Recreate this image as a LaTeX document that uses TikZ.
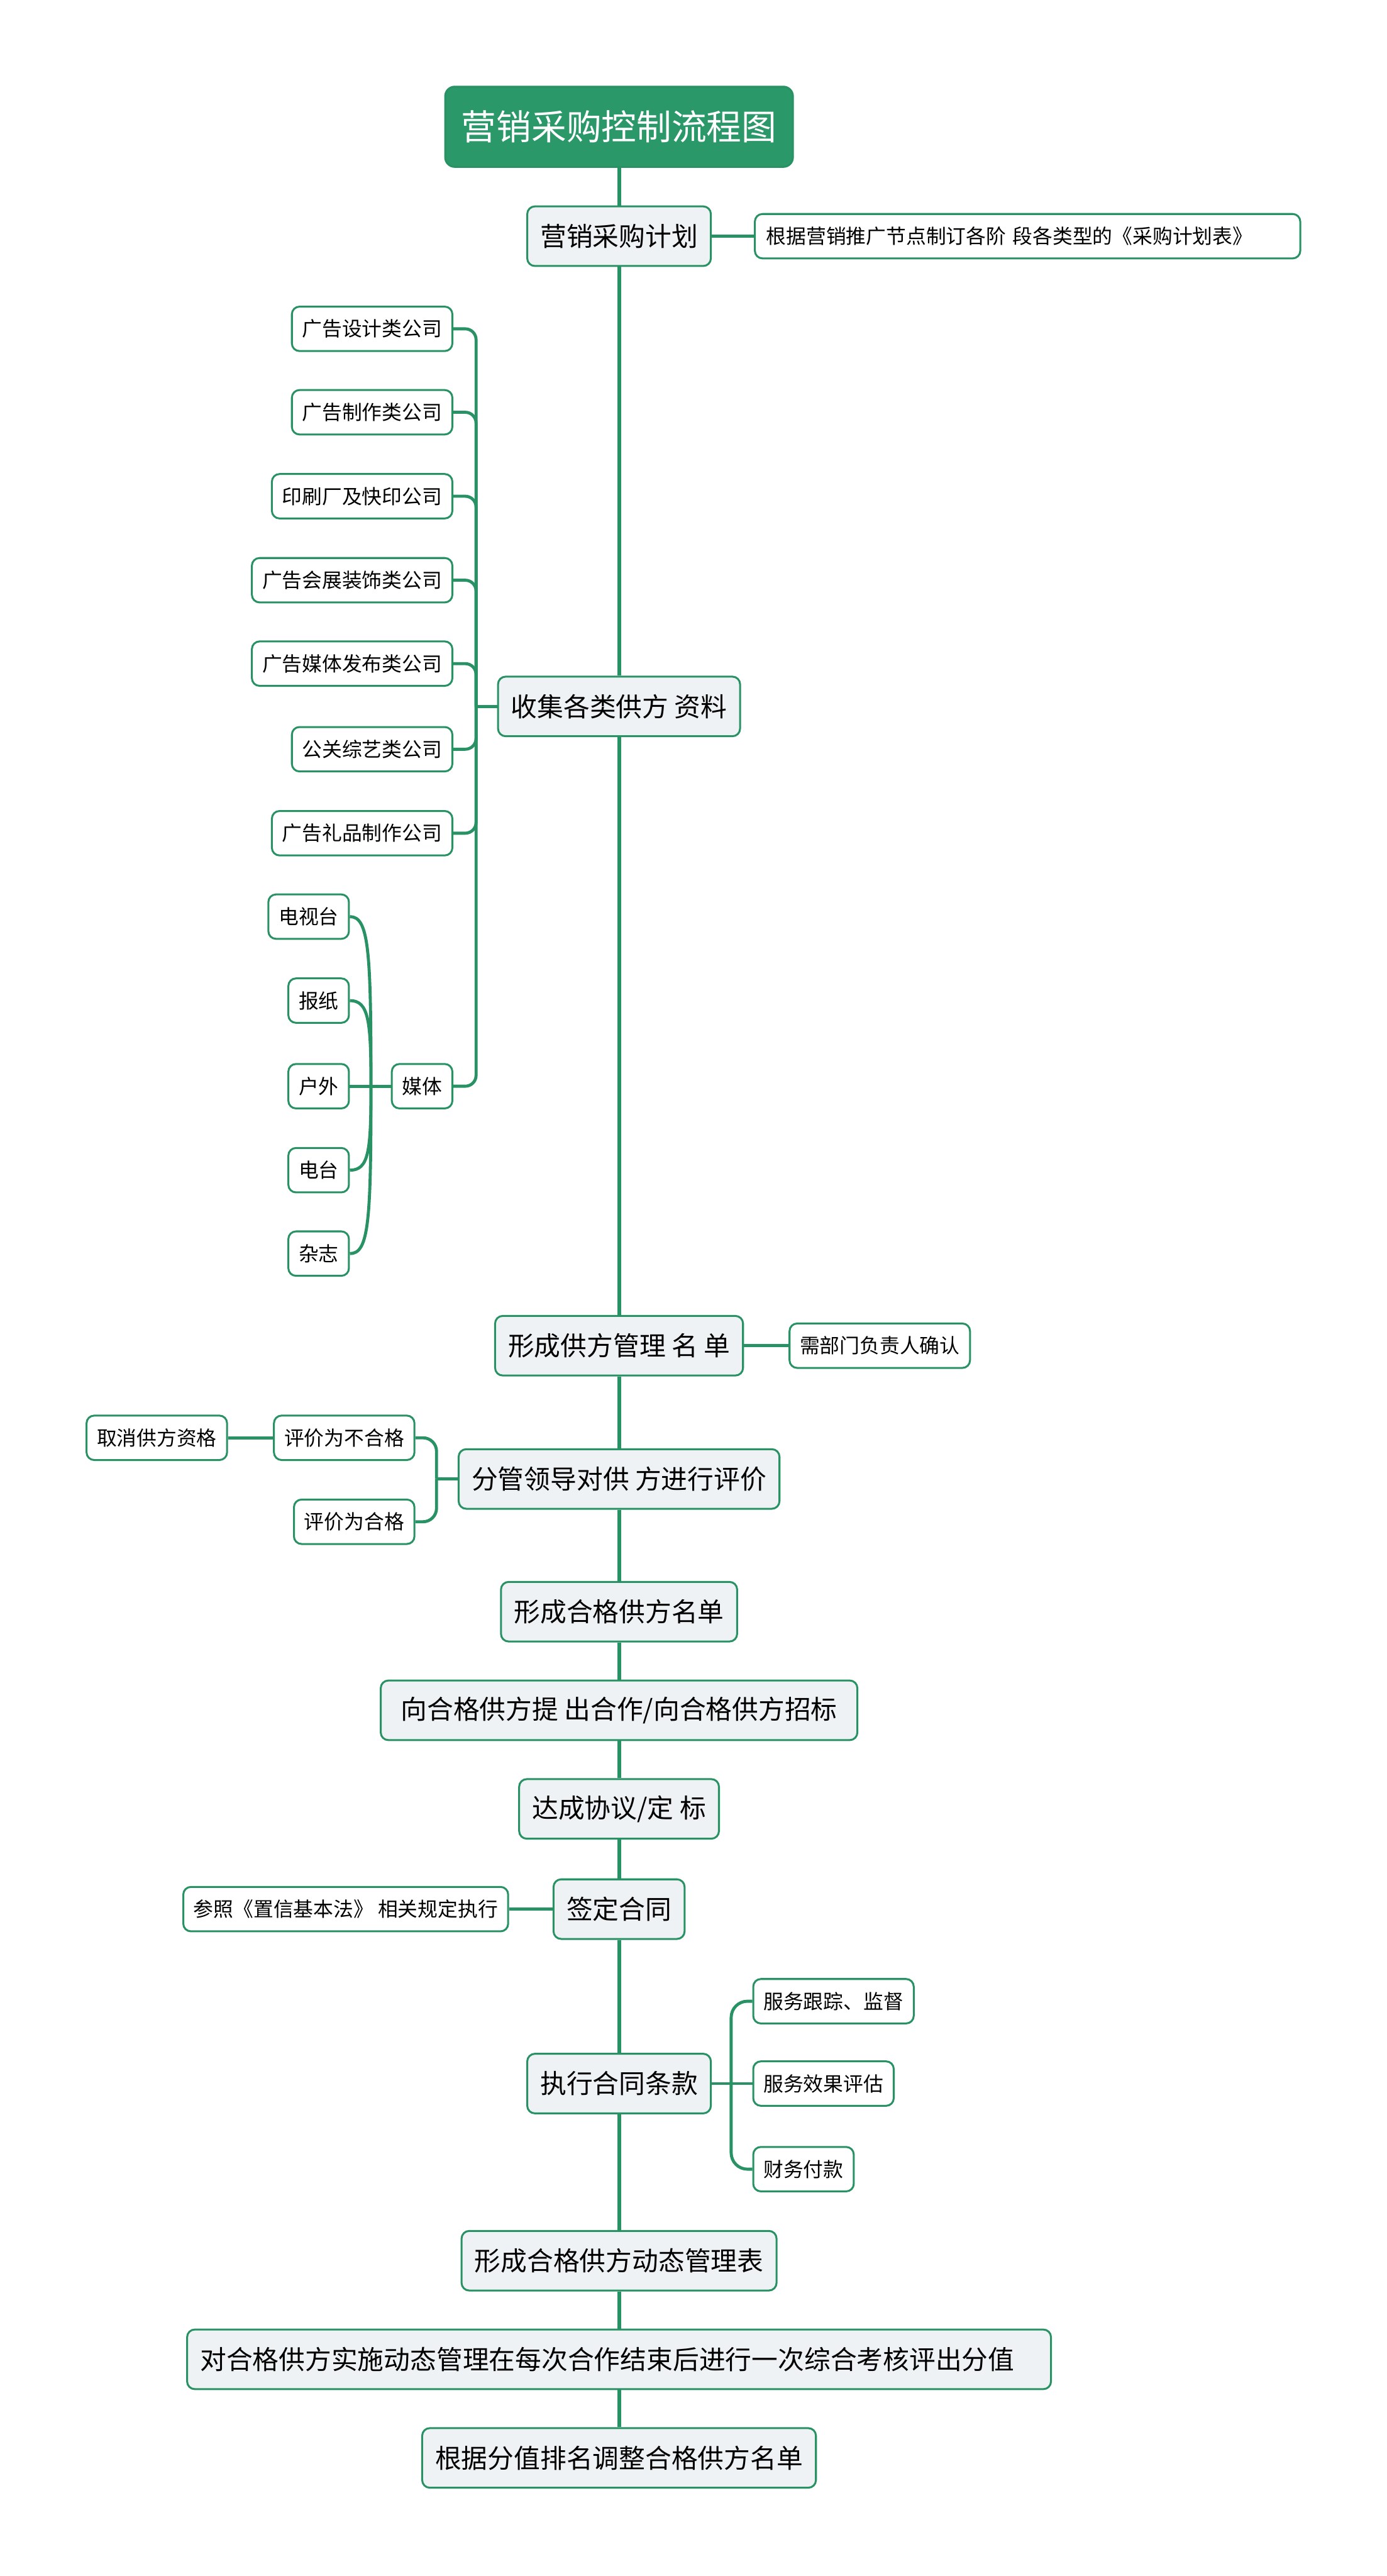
\documentclass[tikz,border=0pt]{standalone}
\usepackage{fontspec}
\setmainfont{Noto Sans CJK SC}
\usepackage{tikz}
\definecolor{mapGreen}{RGB}{40,146,100}
\definecolor{titleGreen}{RGB}{42,152,104}
\definecolor{boxGray}{RGB}{238,242,244}

\begin{document}
\begin{tikzpicture}[
        titlebox/.style={draw=mapGreen, fill=titleGreen, text=white, rounded corners=5pt,
                   line width=1pt, inner xsep=0.3cm, minimum height=1.48cm,
                   font=\fontsize{18.4}{20}\selectfont},
        mainbox/.style={draw=mapGreen, fill=boxGray, rounded corners=4pt, line width=1pt,
                   inner xsep=0.24cm, minimum height=1.1cm, font=\fontsize{13.8}{15}\selectfont},
        leaf/.style={draw=mapGreen, fill=white, rounded corners=4pt, line width=1pt,
                   inner xsep=0.19cm, minimum height=0.82cm, font=\fontsize{10.5}{12}\selectfont},
        spine/.style={draw=mapGreen, line width=2pt},
        link/.style={draw=mapGreen, line width=1.6pt}
      ]
        \fill[white] (0,0) rectangle (25.6,-47.55);
        \useasboundingbox (0,0) rectangle (25.6,-47.55);
        % MAIN COLUMN
        \node[titlebox] (title) at (11.43,-2.34) {营销采购控制流程图};
        \node[mainbox] (plan) at (11.43,-4.36) {营销采购计划};
        \node[mainbox] (collect) at (11.43,-13.04) {收集各类供方 资料};
        \node[mainbox] (list) at (11.43,-24.84) {形成供方管理 名 单};
        \node[mainbox] (evaluate) at (11.43,-27.30) {分管领导对供 方进行评价};
        \node[mainbox] (qualified) at (11.43,-29.75) {形成合格供方名单};
        \node[mainbox, minimum width=8.8cm] (tender) at (11.43,-31.57) {向合格供方提 出合作/向合格供方招标};
        \node[mainbox] (agree) at (11.43,-33.39) {达成协议/定 标};
        \node[mainbox] (sign) at (11.43,-35.24) {签定合同};
        \node[mainbox] (exec) at (11.43,-38.46) {执行合同条款};
        \node[mainbox] (dyntable) at (11.43,-41.73) {形成合格供方动态管理表};
        \node[mainbox, text width=15.47cm, align=left] (assess) at (11.43,-43.55) {对合格供方实施动态管理在每次合作结束后进行一次综合考核评出分值};
        \node[mainbox] (adjust) at (11.43,-45.37) {根据分值排名调整合格供方名单};
        \draw[spine] (title) -- (plan);
        \draw[spine] (plan) -- (collect);
        \draw[spine] (collect) -- (list);
        \draw[spine] (list) -- (evaluate);
        \draw[spine] (evaluate) -- (qualified);
        \draw[spine] (qualified) -- (tender);
        \draw[spine] (tender) -- (agree);
        \draw[spine] (agree) -- (sign);
        \draw[spine] (sign) -- (exec);
        \draw[spine] (exec) -- (dyntable);
        \draw[spine] (dyntable) -- (assess);
        \draw[spine] (assess) -- (adjust);
        % NOTES
        \node[leaf, anchor=west, text width=9.65cm, align=left, inner xsep=0.21cm] (planNote) at (13.92,-4.36) {根据营销推广节点制订各阶 段各类型的《采购计划表》};
        \node[leaf, anchor=west] (listNote) at (14.56,-24.84) {需部门负责人确认};
        \node[leaf, anchor=east] (signNote) at (9.40,-35.24) {参照《置信基本法》 相关规定执行};
        \draw[link] (plan) -- (planNote);
        \draw[link] (list) -- (listNote);
        \draw[link] (sign) -- (signNote);
        % SUPPLIER TYPES
        \node[leaf, anchor=east] (adDesign) at (8.37,-6.07) {广告设计类公司};
        \node[leaf, anchor=east] (adMake) at (8.37,-7.61) {广告制作类公司};
        \node[leaf, anchor=east] (printShop) at (8.37,-9.16) {印刷厂及快印公司};
        \node[leaf, anchor=east] (adExpo) at (8.37,-10.71) {广告会展装饰类公司};
        \node[leaf, anchor=east] (adMedia) at (8.37,-12.25) {广告媒体发布类公司};
        \node[leaf, anchor=east] (prShow) at (8.37,-13.83) {公关综艺类公司};
        \node[leaf, anchor=east] (adGift) at (8.37,-15.38) {广告礼品制作公司};
        \node[leaf, anchor=east] (media) at (8.37,-20.05) {媒体};
        \coordinate (collectJ) at (8.79,-13.04);
        \draw[link] (collect) -- (collectJ);
        \draw[link, rounded corners=0.2cm] (collectJ) |- (adDesign);
        \draw[link, rounded corners=0.2cm] (collectJ) |- (adMake);
        \draw[link, rounded corners=0.2cm] (collectJ) |- (printShop);
        \draw[link, rounded corners=0.2cm] (collectJ) |- (adExpo);
        \draw[link, rounded corners=0.2cm] (collectJ) |- (adMedia);
        \draw[link, rounded corners=0.2cm] (collectJ) |- (prShow);
        \draw[link, rounded corners=0.2cm] (collectJ) |- (adGift);
        \draw[link, rounded corners=0.2cm] (collectJ) |- (media);
        % MEDIA
        \node[leaf, anchor=east] (tv) at (6.46,-16.92) {电视台};
        \node[leaf, anchor=east] (paper) at (6.46,-18.47) {报纸};
        \node[leaf, anchor=east] (outdoor) at (6.46,-20.05) {户外};
        \node[leaf, anchor=east] (radio) at (6.46,-21.60) {电台};
        \node[leaf, anchor=east] (magazine) at (6.46,-23.14) {杂志};
        \coordinate (mediaJ) at (6.85,-20.05);
        \draw[link] (media) -- (mediaJ);
        \draw[link] (mediaJ) .. controls +(0,2.5) and +(0.35,0) .. (tv.east);
        \draw[link] (mediaJ) .. controls +(0,1.2) and +(0.35,0) .. (paper.east);
        \draw[link] (mediaJ) -- (outdoor);
        \draw[link] (mediaJ) .. controls +(0,-1.2) and +(0.35,0) .. (radio.east);
        \draw[link] (mediaJ) .. controls +(0,-2.5) and +(0.35,0) .. (magazine.east);
        % EVALUATION
        \node[leaf, anchor=east] (failNode) at (7.67,-26.54) {评价为不合格};
        \node[leaf, anchor=east] (passNode) at (7.67,-28.09) {评价为合格};
        \node[leaf, anchor=east] (cancelNode) at (4.21,-26.54) {取消供方资格};
        \coordinate (evalJ) at (8.06,-27.30);
        \draw[link] (evaluate) -- (evalJ);
        \draw[link, rounded corners=0.25cm] (evalJ) |- (failNode);
        \draw[link, rounded corners=0.25cm] (evalJ) |- (passNode);
        \draw[link] (failNode) -- (cancelNode);
        % CONTRACT EXECUTION
        \node[leaf, anchor=west] (track) at (13.89,-36.94) {服务跟踪、监督};
        \node[leaf, anchor=west] (effect) at (13.89,-38.46) {服务效果评估};
        \node[leaf, anchor=west] (pay) at (13.89,-40.04) {财务付款};
        \coordinate (execJ) at (13.50,-38.46);
        \draw[link] (exec) -- (execJ);
        \draw[link, rounded corners=0.3cm] (execJ) |- (track);
        \draw[link] (execJ) -- (effect);
        \draw[link, rounded corners=0.3cm] (execJ) |- (pay);
      \end{tikzpicture}
\end{document}
